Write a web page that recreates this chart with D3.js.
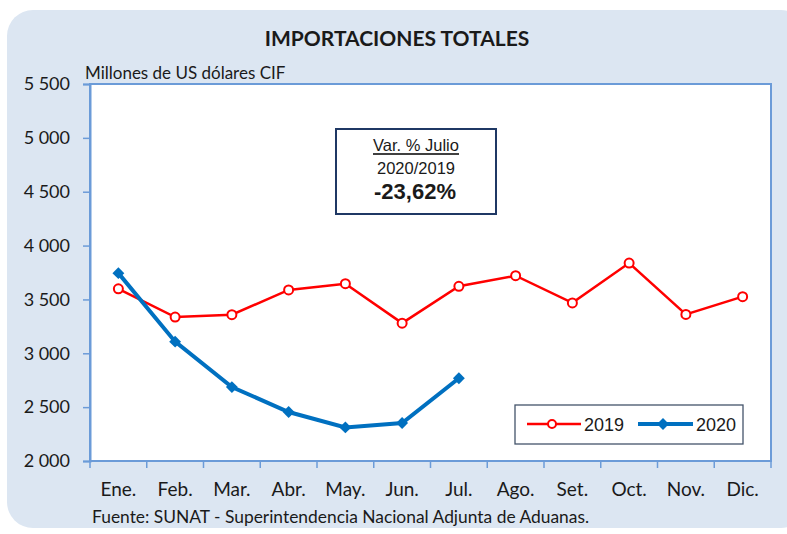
<!DOCTYPE html>
<html>
<head>
<meta charset="utf-8">
<title>Importaciones totales</title>
<script src="https://cdn.jsdelivr.net/npm/d3@7"></script>
<style>
    body { margin: 0; background: #fff; overflow: hidden; }
    svg text { font-family: Lato, 'Open Sans', sans-serif; fill: #1a1a1a; }
    svg .arial { font-family: 'Liberation Sans', Arial, sans-serif; }
</style>
</head>
<body>
<div id="container"></div>
<script>
    var months = ["Ene.", "Feb.", "Mar.", "Abr.", "May.", "Jun.", "Jul.", "Ago.", "Set.", "Oct.", "Nov.", "Dic."];
    var v2019 = [3598, 3336, 3358, 3588, 3646, 3280, 3622, 3720, 3468, 3838, 3361, 3526];
    var v2020 = [3744, 3108, 2686, 2455, 2312, 2353, 2768];
    var yTicks = [2000, 2500, 3000, 3500, 4000, 4500, 5000, 5500];

    function drawChart() {
        var width = 787, height = 534;
        var chart = d3.select("#container").append("svg:svg")
            .attr("width", width).attr("height", height);

        // fondo redondeado
        chart.append("rect").attr("x", 7).attr("y", 10).attr("width", 800).attr("height", 518)
            .attr("rx", 26).attr("fill", "#dce6f2");

        var pLeft = 90, pRight = 771, pTop = 84, pBottom = 461;
        var x = d3.scaleBand().domain(months).range([pLeft, pRight]);
        var y = d3.scaleLinear().domain([2000, 5500]).range([pBottom, pTop]);

        chart.append("rect").attr("x", pLeft).attr("y", pTop)
            .attr("width", pRight - pLeft).attr("height", pBottom - pTop)
            .attr("fill", "#fff").attr("stroke", "#6b9bd8").attr("stroke-width", 2);

        var yAxis = chart.append("g").attr("transform", "translate(" + pLeft + ",0)")
            .call(d3.axisLeft(y).tickValues(yTicks).tickSize(7).tickPadding(13)
                .tickFormat(function (d) { return d3.format(",")(d).replace(",", " "); }));
        yAxis.select(".domain").attr("stroke", "#6b9bd8").attr("stroke-width", 2);
        yAxis.selectAll(".tick line").attr("stroke", "#6b9bd8").attr("stroke-width", 1.5);
        yAxis.selectAll(".tick text").style("font-size", "18px").attr("fill", "#1a1a1a")
            .style("white-space", "pre");

        var xAxis = chart.append("g").attr("transform", "translate(0," + pBottom + ")");
        xAxis.append("line").attr("x1", pLeft).attr("x2", pRight).attr("stroke", "#6b9bd8").attr("stroke-width", 2);
        xAxis.selectAll(".xt").data(d3.range(months.length + 1)).enter().append("line")
            .attr("x1", function (i) { return pLeft + i * x.step(); })
            .attr("x2", function (i) { return pLeft + i * x.step(); })
            .attr("y1", 0).attr("y2", 7).attr("stroke", "#6b9bd8").attr("stroke-width", 1.5);
        xAxis.selectAll(".xl").data(months).enter().append("text")
            .attr("x", function (d) { return x(d) + x.bandwidth() / 2; })
            .attr("y", 35).attr("text-anchor", "middle").style("font-size", "19px")
            .text(function (d) { return d; });

        var cx = function (d, i) { return x(months[i]) + x.bandwidth() / 2; };
        var line = d3.line().x(cx).y(function (d) { return y(d); });

        chart.append("path").datum(v2019).attr("d", line)
            .attr("fill", "none").attr("stroke", "#ff0000").attr("stroke-width", 2.5);
        chart.selectAll(".p2019").data(v2019).enter().append("circle")
            .attr("cx", cx).attr("cy", function (d) { return y(d); }).attr("r", 4.5)
            .attr("fill", "#fff").attr("stroke", "#ff0000").attr("stroke-width", 2);

        chart.append("path").datum(v2020).attr("d", line)
            .attr("fill", "none").attr("stroke", "#0070c0").attr("stroke-width", 4);
        var diamond = d3.symbol().type(d3.symbolDiamond2).size(90);
        chart.selectAll(".p2020").data(v2020).enter().append("path")
            .attr("d", diamond)
            .attr("transform", function (d, i) { return "translate(" + cx(d, i) + "," + y(d) + ")"; })
            .attr("fill", "#0070c0");

        // textos
        chart.append("text").attr("x", 397).attr("y", 46).attr("text-anchor", "middle")
            .style("font-size", "21px").style("font-weight", "bold").text("IMPORTACIONES TOTALES");
        chart.append("text").attr("x", 85).attr("y", 79).style("font-size", "17px")
            .text("Millones de US dólares CIF");
        chart.append("text").attr("x", 92).attr("y", 523).style("font-size", "17.4px")
            .text("Fuente: SUNAT - Superintendencia Nacional Adjunta de Aduanas.");

        // recuadro variación
        chart.append("rect").attr("x", 336).attr("y", 129).attr("width", 160).attr("height", 85)
            .attr("fill", "#fff").attr("stroke", "#1f3864").attr("stroke-width", 2);
        chart.append("text").attr("class", "arial").attr("x", 416).attr("y", 151).attr("text-anchor", "middle")
            .style("font-size", "16.5px").text("Var. % Julio");
        chart.append("line").attr("x1", 373).attr("x2", 459).attr("y1", 154).attr("y2", 154)
            .attr("stroke", "#000").attr("stroke-width", 1.5);
        chart.append("text").attr("class", "arial").attr("x", 416).attr("y", 174).attr("text-anchor", "middle")
            .style("font-size", "16.5px").text("2020/2019");
        chart.append("text").attr("class", "arial").attr("x", 415).attr("y", 199).attr("text-anchor", "middle")
            .style("font-size", "22px").style("font-weight", "bold").text("-23,62%");

        // leyenda
        var lg = chart.append("g").attr("transform", "translate(515,405)");
        lg.append("rect").attr("width", 228).attr("height", 39)
            .attr("fill", "#fff").attr("stroke", "#44546a").attr("stroke-width", 1.3);
        lg.append("line").attr("x1", 12).attr("x2", 66).attr("y1", 19).attr("y2", 19)
            .attr("stroke", "#ff0000").attr("stroke-width", 2.5);
        lg.append("circle").attr("cx", 37).attr("cy", 19).attr("r", 4)
            .attr("fill", "#fff").attr("stroke", "#ff0000").attr("stroke-width", 2);
        lg.append("text").attr("class", "arial").attr("x", 69).attr("y", 26).style("font-size", "18px").text("2019");
        lg.append("line").attr("x1", 123).attr("x2", 178).attr("y1", 19).attr("y2", 19)
            .attr("stroke", "#0070c0").attr("stroke-width", 4);
        lg.append("path").attr("d", diamond).attr("transform", "translate(148,19)").attr("fill", "#0070c0");
        lg.append("text").attr("class", "arial").attr("x", 181).attr("y", 26).style("font-size", "18px").text("2020");
    }

    drawChart();
</script>
</body>
</html>
